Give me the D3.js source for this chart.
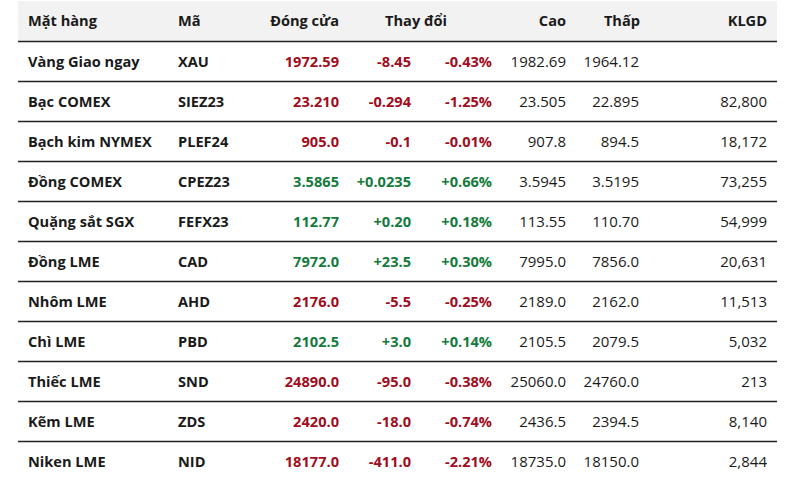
<!DOCTYPE html>
<html><head><meta charset="utf-8">
<script src="https://cdn.jsdelivr.net/npm/d3@7"></script>
<style>
html,body{margin:0;padding:0;background:#fff;}
svg{display:block;font-family:"Open Sans",sans-serif;}
</style></head>
<body>
<script>
const headers = ["Mặt hàng","Mã","Đóng cửa","Thay đổi","Cao","Thấp","KLGD"];
const names = ["Vàng Giao ngay","Bạc COMEX","Bạch kim NYMEX","Đồng COMEX","Quặng sắt SGX","Đồng LME","Nhôm LME","Chì LME","Thiếc LME","Kẽm LME","Niken LME"];
const codes = ["XAU","SIEZ23","PLEF24","CPEZ23","FEFX23","CAD","AHD","PBD","SND","ZDS","NID"];
const closes = ["1972.59","23.210","905.0","3.5865","112.77","7972.0","2176.0","2102.5","24890.0","2420.0","18177.0"];
const changes = ["-8.45","-0.294","-0.1","+0.0235","+0.20","+23.5","-5.5","+3.0","-95.0","-18.0","-411.0"];
const pcts = ["-0.43%","-1.25%","-0.01%","+0.66%","+0.18%","+0.30%","-0.25%","+0.14%","-0.38%","-0.74%","-2.21%"];
const highs = ["1982.69","23.505","907.8","3.5945","113.55","7995.0","2189.0","2105.5","25060.0","2436.5","18735.0"];
const lows = ["1964.12","22.895","894.5","3.5195","110.70","7856.0","2162.0","2079.5","24760.0","2394.5","18150.0"];
const volumes = ["","82,800","18,172","73,255","54,999","20,631","11,513","5,032","213","8,140","2,844"];

const W = 799, H = 498;
const svg = d3.select("body").append("svg").attr("width", W).attr("height", H);

const left = 18, right = 777;
const headerH = 41, rowH = 40;
const y = d3.scaleBand().domain(d3.range(names.length)).range([headerH, headerH + rowH*names.length]);

const red = "#a00d1d", green = "#157a3d", dark = "#1a1a1a";

// header bg
svg.append("rect").attr("x", left).attr("y", 1).attr("width", right-left).attr("height", headerH-1).attr("fill", "#f2f2f2");

const cols = [
  {x:28, a:"start"}, {x:178, a:"start"}, {x:339, a:"end"}, {x:411, a:"end"},
  {x:492, a:"end"}, {x:566, a:"end"}, {x:639, a:"end"}, {x:767, a:"end"}
];
const hdrPos = [
  {x:28, a:"start"}, {x:178, a:"start"}, {x:339, a:"end"}, {x:416, a:"middle"},
  {x:566, a:"end"}, {x:640, a:"end"}, {x:767, a:"end"}
];

svg.append("g").selectAll("text").data(headers).join("text")
  .attr("x", (d,i)=>hdrPos[i].x).attr("y", 26)
  .attr("text-anchor", (d,i)=>hdrPos[i].a)
  .attr("font-size", 14.6).attr("font-weight", 700).attr("fill", dark)
  .text(d=>d);

svg.append("g").selectAll("line").data(d3.range(names.length)).join("line")
  .attr("x1", left).attr("x2", right)
  .attr("y1", i=>y(i)+0.5).attr("y2", i=>y(i)+0.5)
  .attr("stroke", "#222").attr("stroke-width", 1.3);

const rows = svg.append("g").selectAll("g").data(d3.range(names.length)).join("g")
  .attr("transform", i=>`translate(0,${y(i) + y.bandwidth()/2 + 5.5})`);

function cell(colIdx, arr, weight, size, colorFn){
  rows.append("text")
    .attr("x", cols[colIdx].x).attr("text-anchor", cols[colIdx].a)
    .attr("font-size", size).attr("font-weight", weight)
    .attr("fill", i=>colorFn(i))
    .text(i=>arr[i]);
}
const sc = i => changes[i].startsWith("-") ? red : green;
cell(0, names, 700, 14.6, ()=>dark);
cell(1, codes, 700, 14.6, ()=>dark);
cell(2, closes, 700, 14.6, sc);
cell(3, changes, 700, 14.6, sc);
cell(4, pcts, 700, 14.6, sc);
cell(5, highs, 400, 15, ()=>dark);
cell(6, lows, 400, 15, ()=>dark);
cell(7, volumes, 400, 15, ()=>dark);
</script>
</body></html>
